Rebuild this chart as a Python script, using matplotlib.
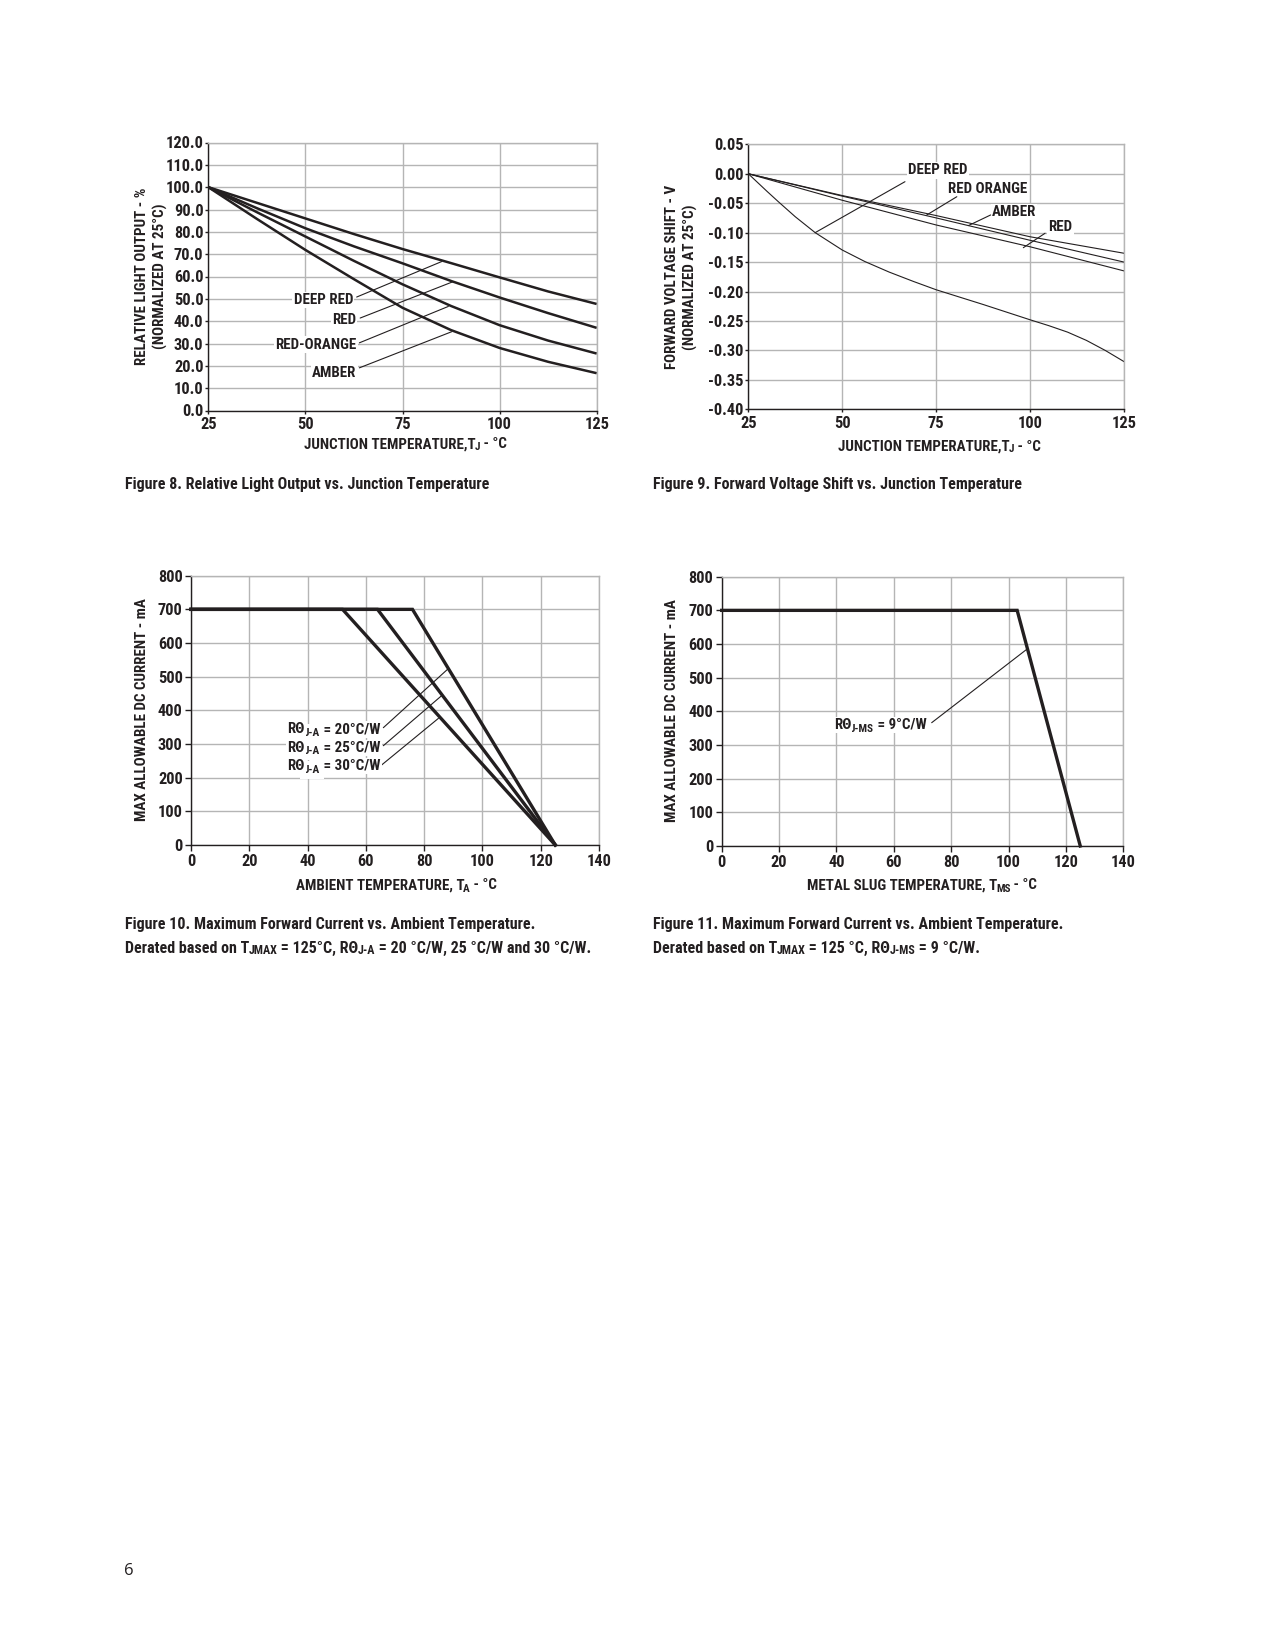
"""Datasheet page: LED light output, forward voltage and derating curves."""
import matplotlib
matplotlib.use('Agg')
from matplotlib import pyplot as plt

plt.rcParams['font.family'] = ['Roboto Condensed', 'Roboto', 'DejaVu Sans']
plt.rcParams['font.weight'] = 'bold'
INK = '#231f20'
GRID = '#b5b5b5'
W, H = 1275, 1650
FS_TICK = 11.8
FS_LAB = 10.8
FS_CAP = 11.5

# Figure 8: relative light output (%) vs junction temperature
tj_light = [25, 37.5, 50, 62.5, 75, 87.5, 100, 112.5, 125]
light_deep_red = [100, 93.0, 86.0, 79.0, 72.3, 66.0, 59.6, 53.3, 47.7]
light_red = [100, 90.6, 81.6, 73.5, 65.9, 58.0, 50.6, 43.6, 37.0]
light_red_orange = [100, 88.8, 77.9, 67.0, 56.5, 46.8, 38.2, 31.3, 25.5]
light_amber = [100, 85.8, 71.9, 58.8, 46.0, 36.0, 28.0, 21.8, 16.7]

# Figure 9: forward voltage shift (V) vs junction temperature
tj_vf = [25, 50, 75, 100, 125]
vf_red_orange = [0, -0.037, -0.071, -0.107, -0.135]
vf_amber = [0, -0.038, -0.075, -0.113, -0.150]
vf_red = [0, -0.045, -0.087, -0.124, -0.165]
tj_vf_deep = [25, 30, 33, 37.5, 42.8, 50, 56, 62.5, 69, 75, 87.5, 100, 105,
              110, 115, 120, 125]
vf_deep_red = [0, -0.030, -0.0475, -0.073, -0.100, -0.1295, -0.149, -0.167,
               -0.183, -0.197, -0.222, -0.248, -0.258, -0.269, -0.283, -0.300,
               -0.319]

# Figures 10/11: derating
tj_max = 125
i_max = 700
rth_ja = [20, 25, 30]
knee_ta = [76, 64, 52]
rth_jms = 9
knee_tms = 103


def axes_px(fig, left, top, right, bottom):
    return fig.add_axes([left / W, 1 - bottom / H, (right - left) / W, (bottom - top) / H])


def style(ax, tick_len, ypad):
    ax.grid(True, color=GRID, lw=1.0)
    ax.set_axisbelow(True)
    for s in ('top', 'right'):
        ax.spines[s].set_color(GRID)
        ax.spines[s].set_linewidth(1.0)
    for s in ('left', 'bottom'):
        ax.spines[s].set_color(INK)
        ax.spines[s].set_linewidth(1.0)
    ax.tick_params(direction='out', length=tick_len, width=1, colors=INK,
                   labelsize=FS_TICK)
    ax.tick_params(axis='y', pad=ypad)
    ax.tick_params(axis='x', pad=2.5)


def rich(ax, x, y, parts, coords, ha='left', size=FS_LAB, sub_scale=0.75,
         drop=1.8, bg=False):
    """Lay out text pieces (string, is_subscript) one after another."""
    k = 0.24
    seq = parts if ha == 'left' else parts[::-1]
    prev = None
    prev_sub = False
    for s, sub in seq:
        fs = size * sub_scale if sub else size
        kw = dict(fontsize=fs, color=INK, fontweight='bold', ha=ha,
                  annotation_clip=False, textcoords='offset points')
        if bg:
            kw['bbox'] = dict(boxstyle='square,pad=%.2f' % (0.35 if sub else 0.08),
                              fc='white', ec='none')
        if prev is None:
            dy = -drop if sub else 0
            prev = ax.annotate(s, xy=(x, y), xycoords=coords, xytext=(0, dy),
                               va='baseline', **kw)
        else:
            if sub == prev_sub:
                dy = 0
            elif sub:
                dy = -drop + k * (size - fs)
            else:
                dy = drop - k * (size - size * sub_scale)
            if ha == 'left':
                dx = -0.7 if sub else 0
            else:
                dx = 0.7 if prev_sub else 0
            prev = ax.annotate(s, xy=(1 if ha == 'left' else 0, 0), xycoords=prev,
                               xytext=(dx, dy), va='bottom', **kw)
        prev_sub = sub


def leader(ax, start, end):
    ax.annotate('', xy=end, xytext=start,
                arrowprops=dict(arrowstyle='-', color=INK, lw=0.8,
                                shrinkA=0, shrinkB=0))


def plot():
    fig = plt.figure(figsize=(W / 100, H / 100), dpi=100)
    page = fig.add_axes([0, 0, 1, 1])
    page.axis('off')

    def fp(x, y):
        return (x / W, 1 - y / H)

    white = dict(boxstyle='square,pad=0.08', fc='white', ec='none')

    # ---- Figure 8
    ax1 = axes_px(fig, 208.3, 142.5, 596.7, 410.5)
    for vals in (light_deep_red, light_red, light_red_orange, light_amber):
        ax1.plot(tj_light, vals, color=INK, lw=1.8, solid_capstyle='butt',
                 solid_joinstyle='round')
    ax1.set_xlim(25, 125)
    ax1.set_ylim(0, 120)
    ax1.set_xticks([25, 50, 75, 100, 125])
    yt = list(range(0, 130, 10))
    ax1.set_yticks(yt, labels=[f'{v:.1f}' for v in yt])
    style(ax1, 2.5, 1)
    labels1 = [('DEEP RED', 62.3, 47.7, (63.2, 50.8), (85.1, 66.7)),
               ('RED', 63.0, 38.75, (64.1, 41.4), (87.9, 57.6)),
               ('RED-ORANGE', 63.2, 27.7, (63.9, 30.3), (86.8, 46.6)),
               ('AMBER', 63.2, 14.9, (63.9, 19.1), (87.7, 35.3))]
    for txt, x, y, a, b in labels1:
        ax1.text(x, y, txt, ha='right', va='baseline', fontsize=FS_LAB, color=INK,
                 bbox=white)
        leader(ax1, a, b)
    page.text(*fp(151.5, 276.5), 'RELATIVE LIGHT OUTPUT - %\n(NORMALIZED AT 25°C)',
              rotation=90, ha='center', va='center', multialignment='center',
              fontsize=FS_LAB, color=INK, linespacing=1.35)
    rich(page, *fp(304, 448.5), [('JUNCTION TEMPERATURE,T', False), ('J', True),
                                 (' - °C', False)], 'figure fraction', drop=1.0)
    page.text(*fp(125, 489.3), 'Figure 8. Relative Light Output vs. Junction Temperature',
              fontsize=FS_CAP, color=INK, va='baseline')

    # ---- Figure 9
    ax2 = axes_px(fig, 748.3, 144.3, 1124, 409.3)
    ax2.plot(tj_vf, vf_red_orange, color=INK, lw=0.8)
    ax2.plot(tj_vf, vf_amber, color=INK, lw=0.8)
    ax2.plot(tj_vf, vf_red, color=INK, lw=0.8)
    ax2.plot(tj_vf_deep, vf_deep_red, color=INK, lw=0.8)
    ax2.set_xlim(25, 125)
    ax2.set_ylim(-0.40, 0.05)
    ax2.set_xticks([25, 50, 75, 100, 125])
    yt2 = [round(0.05 - 0.05 * i, 2) + 0.0 for i in range(10)]
    ax2.set_yticks(yt2, labels=[f'{v:.2f}' for v in yt2])
    style(ax2, 2.5, 1)
    labels2 = [('DEEP RED', 67.6, -0.001, (66.7, -0.0135), (42.8, -0.100)),
               ('RED ORANGE', 78.2, -0.032, (80.5, -0.039), (72.5, -0.070)),
               ('AMBER', 89.8, -0.072, (89.5, -0.070), (83.6, -0.088)),
               ('RED', 104.9, -0.098, (104.0, -0.101), (98.2, -0.1256))]
    for txt, x, y, a, b in labels2:
        ax2.text(x, y, txt, ha='left', va='baseline', fontsize=FS_LAB, color=INK,
                 bbox=white)
        leader(ax2, a, b)
    page.text(*fp(681.5, 276.8), 'FORWARD VOLTAGE SHIFT - V\n(NORMALIZED AT 25°C)',
              rotation=90, ha='center', va='center', multialignment='center',
              fontsize=FS_LAB, color=INK, linespacing=1.35)
    rich(page, *fp(838.3, 450.7), [('JUNCTION TEMPERATURE,T', False), ('J', True),
                                   (' - °C', False)], 'figure fraction', drop=1.0)
    page.text(*fp(653.3, 489.3), 'Figure 9. Forward Voltage Shift vs. Junction Temperature',
              fontsize=FS_CAP, color=INK, va='baseline')

    # ---- Figure 10
    ax3 = axes_px(fig, 191, 575.7, 599, 845)
    for knee in knee_ta:
        ax3.plot([0, knee, tj_max], [i_max, i_max, 0], color=INK, lw=2.4,
                 solid_joinstyle='miter', clip_on=False)
    ax3.set_xlim(0, 140)
    ax3.set_ylim(0, 800)
    ax3.set_xticks(range(0, 160, 20))
    ax3.set_yticks(range(0, 900, 100))
    style(ax3, 4, 2)
    lab3 = [(331.7, (66.0, 348.5), (88.3, 524)),
            (277.0, (66.0, 295.0), (86.0, 443.6)),
            (222.8, (65.4, 237.6), (84.9, 376.2))]
    for rth, (y, a, b) in zip(rth_ja, lab3):
        leader(ax3, a, b)
        rich(ax3, 65.1, y, [('RΘ', False), ('J-A', True), (f' = {rth}°C/W', False)],
             'data', ha='right', bg=True)
    page.text(*fp(141.7, 710), 'MAX ALLOWABLE DC CURRENT - mA', rotation=90,
              ha='center', va='center', fontsize=FS_LAB, color=INK)
    rich(page, *fp(295.7, 889.3), [('AMBIENT TEMPERATURE, T', False), ('A', True),
                                   (' - °C', False)], 'figure fraction')
    page.text(*fp(125, 929.3),
              'Figure 10. Maximum Forward Current vs. Ambient Temperature.',
              fontsize=FS_CAP, color=INK, va='baseline')
    rich(page, *fp(125, 952.7),
         [('Derated based on T', False), ('JMAX', True), (f' = {tj_max}°C, RΘ', False),
          ('J-A', True), (' = 20 °C/W, 25 °C/W and 30 °C/W.', False)],
         'figure fraction', size=FS_CAP)

    # ---- Figure 11
    ax4 = axes_px(fig, 721.7, 576.7, 1123.3, 846)
    ax4.plot([0, knee_tms, tj_max], [i_max, i_max, 0], color=INK, lw=2.4,
             solid_joinstyle='miter', clip_on=False)
    ax4.set_xlim(0, 140)
    ax4.set_ylim(0, 800)
    ax4.set_xticks(range(0, 160, 20))
    ax4.set_yticks(range(0, 900, 100))
    style(ax4, 4, 2)
    leader(ax4, (73.2, 366.3), (106.3, 584))
    rich(ax4, 71.5, 347.6, [('RΘ', False), ('J-MS', True), (f' = {rth_jms}°C/W', False)],
         'data', ha='right', bg=True)
    page.text(*fp(671.7, 711), 'MAX ALLOWABLE DC CURRENT - mA', rotation=90,
              ha='center', va='center', fontsize=FS_LAB, color=INK)
    rich(page, *fp(806.7, 889.3), [('METAL SLUG TEMPERATURE, T', False), ('MS', True),
                                   (' - °C', False)], 'figure fraction')
    page.text(*fp(653.3, 929.3),
              'Figure 11. Maximum Forward Current vs. Ambient Temperature.',
              fontsize=FS_CAP, color=INK, va='baseline')
    rich(page, *fp(653.3, 952.7),
         [('Derated based on T', False), ('JMAX', True), (f' = {tj_max} °C, RΘ', False),
          ('J-MS', True), (f' = {rth_jms} °C/W.', False)],
         'figure fraction', size=FS_CAP)

    page.text(*fp(129, 1571), '6', ha='center', va='center', fontsize=12,
              fontweight='normal', color=INK, family=['Open Sans', 'DejaVu Sans'])

    fig.savefig('out.png', dpi=100)


if __name__ == '__main__':
    plot()
